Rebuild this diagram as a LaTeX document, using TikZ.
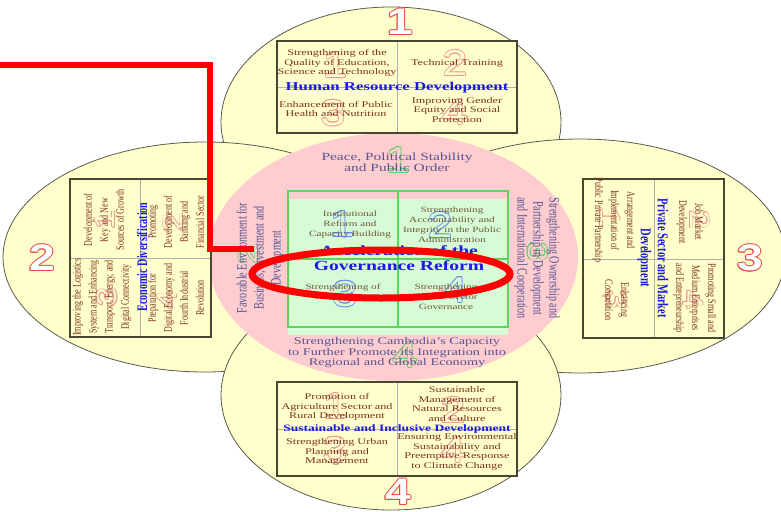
\documentclass[tikz,border=0pt]{standalone}
\usepackage{fontspec}
\setmainfont{Liberation Serif}
\newfontfamily\hf{Liberation Serif}[FakeStretch=1.4]
\newfontfamily\vf{Liberation Serif}[FakeStretch=0.7]
\newfontfamily\nf{Liberation Sans}[FakeStretch=1.25]
\usetikzlibrary{shapes.geometric}
\definecolor{leafc}{RGB}{255,255,204}
\definecolor{leafline}{RGB}{90,90,80}
\definecolor{ringc}{RGB}{255,204,208}
\definecolor{gfill}{RGB}{214,252,214}
\definecolor{gline}{RGB}{90,215,90}
\definecolor{boxline}{RGB}{70,70,50}
\definecolor{divc}{RGB}{175,175,175}
\definecolor{cellc}{RGB}{125,50,30}
\definecolor{ttlc}{RGB}{25,25,225}
\definecolor{ringtxt}{RGB}{85,85,145}
\definecolor{gtxt}{RGB}{110,85,55}
\definecolor{numred}{RGB}{230,70,70}
\definecolor{fpink}{RGB}{240,150,150}
\definecolor{fgreen}{RGB}{100,205,100}
\definecolor{fblue}{RGB}{100,135,230}
\definecolor{hlred}{RGB}{255,0,0}
\tikzset{
  leaf/.style={fill=leafc, draw=leafline, line width=0.8pt},
  bx/.style={draw=boxline, line width=1.2pt},
  dv/.style={draw=divc, line width=0.6pt},
  gbx/.style={draw=gline, line width=1.1pt},
  cell/.style={text=cellc, align=center, inner sep=0pt, font=\hf\fontsize{8.7}{9.7}\selectfont},
  vcell/.style={text=cellc, align=center, inner sep=0pt, font=\vf\fontsize{11.5}{16}\selectfont},
  gcell/.style={text=gtxt, align=center, inner sep=0pt, font=\hf\fontsize{8}{10}\selectfont},
  ttl/.style={text=ttlc, align=center, inner sep=0pt},
  ringt/.style={text=ringtxt, align=center, inner sep=0pt},
  digit/.style={inner sep=0pt, anchor=center},
}
% outlined digit: #1 name, #2 position, #3 digit, #4 rotation, #5 outline, #6 fill, #7 font, #8 offset
\newcommand\odig[8]{%
  \foreach \ang in {0,45,...,315}{%
    \path #2 ++(\ang:#8) node[name=#1-\ang, digit, rotate=#4, text=#5, font={#7}] {#3};}
  \node[name=#1, digit, rotate=#4, text=#6, font={#7}] at #2 {#3};}
\newcommand\bigfont{\nf\bfseries\fontsize{37}{37}\selectfont}
\newcommand\faintfont{\nf\fontsize{36}{36}\selectfont}
\newcommand\faintsm{\nf\fontsize{28}{28}\selectfont}
\begin{document}
\begin{tikzpicture}[x=1pt,y=-1pt]
\useasboundingbox (0,0) rectangle (781,511);
\fill[white] (0,0) rectangle (781,511);
% leaves
\draw[leaf] (391,122) ellipse [x radius=170pt, y radius=115pt];
\draw[leaf] (205,257) ellipse [x radius=202pt, y radius=115pt];
\draw[leaf] (580,256) ellipse [x radius=205pt, y radius=117pt];
\draw[leaf] (391,395) ellipse [x radius=170pt, y radius=115pt];
% ring
\fill[ringc] (393,257) ellipse [x radius=185pt, y radius=124pt];
% box fills
\fill[leafc] (277,41) rectangle (517,133);
\fill[leafc] (277,382) rectangle (517,476);
\fill[leafc] (70,179) rectangle (211,337);
\fill[leafc] (583,179) rectangle (724,338);
\fill[gfill] (288,199) rectangle (508,335);
% faint digits
\odig{ft1}{(335,65)}{1}{0}{fpink}{leafc}{\faintfont}{0.7}
\odig{ft2}{(455,63)}{2}{0}{fpink}{leafc}{\faintfont}{0.7}
\odig{ft3}{(333,113)}{3}{0}{fpink}{leafc}{\faintfont}{0.7}
\odig{ft4}{(455,112)}{4}{0}{fpink}{leafc}{\faintfont}{0.7}
\odig{fb1}{(335,406)}{1}{0}{fpink}{leafc}{\faintfont}{0.7}
\odig{fb2}{(453,410)}{2}{0}{fpink}{leafc}{\faintfont}{0.7}
\odig{fb3}{(335,450)}{3}{0}{fpink}{leafc}{\faintfont}{0.7}
\odig{fb4}{(453,450)}{4}{0}{fpink}{leafc}{\faintfont}{0.7}
\odig{fl1}{(105,220)}{1}{90}{fpink}{leafc}{\faintsm}{0.7}
\odig{fl2}{(173,222)}{2}{90}{fpink}{leafc}{\faintsm}{0.7}
\odig{fl3}{(107,297)}{3}{90}{fpink}{leafc}{\faintsm}{0.7}
\odig{fl4}{(167,300)}{4}{90}{fpink}{leafc}{\faintsm}{0.7}
\odig{fr1}{(610,218)}{1}{-90}{fpink}{leafc}{\faintsm}{0.7}
\odig{fr2}{(700,220)}{2}{-90}{fpink}{leafc}{\faintsm}{0.7}
\odig{fr3}{(617,300)}{3}{-90}{fpink}{leafc}{\faintsm}{0.7}
\odig{fr4}{(693,300)}{4}{-90}{fpink}{leafc}{\faintsm}{0.7}
\odig{fg1}{(342,224)}{1}{0}{fblue}{gfill}{\faintfont}{0.7}
\odig{fg2}{(440,225)}{2}{0}{fblue}{gfill}{\faintfont}{0.7}
\odig{fg3}{(345,294)}{3}{0}{fblue}{gfill}{\faintfont}{0.7}
\odig{fg4}{(455,290)}{4}{0}{fblue}{gfill}{\faintfont}{0.7}
\odig{fn1}{(398,160)}{1}{0}{fgreen}{ringc}{\faintfont}{0.7}
\odig{fn2}{(248,255)}{2}{90}{fgreen}{ringc}{\faintsm}{0.7}
\odig{fn3}{(538,252)}{3}{-90}{fgreen}{ringc}{\faintsm}{0.7}
\odig{fn4}{(405,355)}{4}{0}{fgreen}{ringc}{\faintfont}{0.7}
% box borders and dividers
\draw[dv] (397,41) -- (397,133) (277,87) -- (517,87);
\draw[bx] (277,41) rectangle (517,133);
\draw[dv] (397,382) -- (397,476) (277,429) -- (517,429);
\draw[bx] (277,382) rectangle (517,476);
\draw[dv] (140,179) -- (140,337) (70,258) -- (211,258);
\draw[bx] (70,179) rectangle (211,337);
\draw[dv] (654,179) -- (654,338) (583,259) -- (724,259);
\draw[bx] (583,179) rectangle (724,338);
\draw[gbx] (398,191) -- (398,327) (288,259) -- (508,259);
\draw[gbx] (288,191) rectangle (508,327);
% top box
\node[cell] (h1) at (337,63) {Strengthening of the\\Quality of Education,\\Science and Technology};
\node[cell] (h2) at (457,63) {Technical Training};
\node[cell] (h3) at (336,109) {Enhancement of Public\\Health and Nutrition};
\node[cell] (h4) at (457,110) {Improving Gender\\Equity and Social\\Protection};
\node[ttl, font=\hf\bfseries\fontsize{12}{12}\selectfont] (ht) at (397,88) {Human Resource Development};
% bottom box
\node[cell] (s1) at (337,407) {Promotion of\\Agriculture Sector and\\Rural Development};
\node[cell] (s2) at (457,404) {Sustainable\\Management of\\Natural Resources\\and Culture};
\node[cell] (s3) at (337,452) {Strengthening Urban\\Planning and\\Management};
\node[cell] (s4) at (457,452) {Ensuring Environmental\\Sustainability and\\Preemptive Response\\to Climate Change};
\node[ttl, font=\hf\bfseries\fontsize{9.7}{9.7}\selectfont] (st) at (397,429) {Sustainable and Inclusive Development};
% left box
\node[vcell, rotate=90] (e1) at (104,220) {Development of\\Key and New\\Sources of Growth};
\node[vcell, rotate=90] (e2) at (176,222) {Promoting\\Development of\\Banking and\\Financial Sector};
\node[vcell, rotate=90] (e3) at (102,297) {Improving the Logistics\\System and Enhancing\\Transport, Energy, and\\Digital Connectivity};
\node[vcell, rotate=90] (e4) at (176,298) {Preparation for\\Digital Economy and\\Fourth Industrial\\Revolution};
\node[ttl, rotate=90, font=\vf\bfseries\fontsize{14.5}{16}\selectfont] (et) at (142,257) {Economic Diversification};
% right box
\node[vcell, rotate=-90] (p1) at (614,220) {Arrangement and\\Implementation of\\Public Private Partnership};
\node[vcell, rotate=-90] (p2) at (690,222) {Job Market\\Development};
\node[vcell, rotate=-90] (p3) at (616,300) {Enhancing\\Competition};
\node[vcell, rotate=-90] (p4) at (695,298) {Promoting Small and\\Medium Enterprises\\and Entrepreneurship};
\node[ttl, rotate=-90, font=\vf\bfseries\fontsize{15}{17}\selectfont] (pt) at (653,258) {Private Sector and Market\\Development};
% ring texts
\node[ringt, font=\hf\fontsize{11}{11}\selectfont] (r1) at (397,162) {Peace, Political Stability\\and Public Order};
\node[ringt, font=\hf\fontsize{10.2}{10.5}\selectfont] (r4) at (397,353) {Strengthening Cambodia’s Capacity\\to Further Promote its Integration into\\Regional and Global Economy};
\node[ringt, rotate=90, font=\vf\fontsize{14.5}{17}\selectfont] (r2) at (260,258) {Favorable Environment for\\Business, Investment and\\Development};
\node[ringt, rotate=-90, font=\vf\fontsize{14.5}{16}\selectfont] (r3) at (537,258) {Strengthening Ownership and\\Partnership in Development\\and International Cooperation};
% green box
\node[gcell] (g1) at (350,225) {Institutional\\Reform and\\Capacity Building};
\node[gcell] (g2) at (452,225) {Strengthening\\Accountability and\\Integrity in the Public\\Administration};
\node[gcell] (g3) at (343,292) {Strengthening of\\Rule of Law};
\node[gcell] (g4) at (446,297) {Strengthening\\Private Sector\\Governance};
\node[ttl, font=\hf\bfseries\fontsize{14}{15}\selectfont] (gt) at (399,258) {Acceleration of the\\Governance Reform};
% big digits
\odig{n1}{(400,22)}{1}{0}{numred}{white}{\bigfont}{1}
\odig{n2}{(42,258)}{2}{0}{numred}{white}{\bigfont}{1}
\odig{n3}{(750,258)}{3}{0}{numred}{white}{\bigfont}{1}
\odig{n4}{(398,492)}{4}{0}{numred}{white}{\bigfont}{1}
% highlight
\node[ellipse, draw=hlred, line width=7pt, inner sep=0pt, minimum width=258pt, minimum height=48pt] (hl) at (381,274) {};
\coordinate (rs) at (0,65);
\coordinate (rc) at (210,65);
\coordinate (re) at (254,249);
\draw[hlred, line width=5.5pt] (rs) -- (rc) |- (re);
\end{tikzpicture}
\end{document}
